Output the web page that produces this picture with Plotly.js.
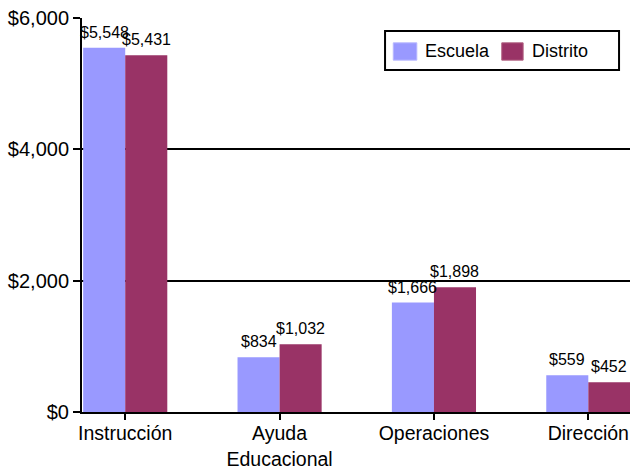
<!DOCTYPE html>
<html><head><meta charset="utf-8">
<script src="https://cdn.plot.ly/plotly-3.0.1.min.js"></script>
<style>html,body{margin:0;padding:0;background:#fff;}#chart{width:632px;height:470px;}</style>
</head><body><div id="chart"></div>
<script>
const categories = ["Instrucción", "Ayuda<br>Educacional", "Operaciones", "Dirección"];
const seriesNames = ["Escuela", "Distrito"];
const escuela = [5548, 834, 1666, 559];
const distrito = [5431, 1032, 1898, 452];
const colors = ["#9999FF", "#993366"];
const yTicks = [0, 2000, 4000, 6000];
const yTickText = ["$0", "$2,000", "$4,000", "$6,000"];

const fmt = v => "$" + v.toLocaleString("en-US");
const FONT = "Liberation Sans, Arial, sans-serif";

const traces = [escuela, distrito].map((vals, i) => ({
  type: "bar",
  name: seriesNames[i],
  x: categories,
  y: vals,
  marker: {color: colors[i], line: {width: 0}},
  showlegend: false,
  hoverinfo: "skip"
}));

const shapes = [
  {type: "rect", xref: "paper", yref: "paper", x0: 0.553, x1: 0.980, y0: 0.868, y1: 0.967,
   line: {color: "#000", width: 2}, fillcolor: "#fff", layer: "above"},
  {type: "rect", xref: "paper", yref: "paper", x0: 0.568, x1: 0.611, y0: 0.893, y1: 0.937,
   line: {color: "#b8b8ff", width: 1}, fillcolor: colors[0], layer: "above"},
  {type: "rect", xref: "paper", yref: "paper", x0: 0.766, x1: 0.805, y0: 0.893, y1: 0.937,
   line: {color: "#b06080", width: 1}, fillcolor: colors[1], layer: "above"}
];
const annotations = [
  {xref: "paper", yref: "paper", x: 0.622, y: 0.915, xanchor: "left", yanchor: "middle",
   text: seriesNames[0], showarrow: false, font: {family: FONT, size: 18, color: "#000"}},
  {xref: "paper", yref: "paper", x: 0.818, y: 0.915, xanchor: "left", yanchor: "middle",
   text: seriesNames[1], showarrow: false, font: {family: FONT, size: 18, color: "#000"}}
];
[escuela, distrito].forEach((vals, i) => {
  vals.forEach((v, j) => {
    annotations.push({
      xref: "x", yref: "y", x: categories[j], y: v,
      xshift: i === 0 ? -21 : 21, yshift: 5,
      xanchor: "center", yanchor: "bottom",
      text: fmt(v), showarrow: false,
      font: {family: FONT, size: 16, color: "#000"}
    });
  });
});

const layout = {
  width: 632, height: 470,
  margin: {l: 82, r: 2, t: 18, b: 58, pad: 0},
  paper_bgcolor: "#fff", plot_bgcolor: "#fff",
  font: {family: FONT, color: "#000"},
  barmode: "group",
  bargap: 0.455,
  bargroupgap: 0,
  showlegend: false,
  xaxis: {
    type: "category",
    range: [-0.28, 3.27],
    showline: true, linecolor: "#000", linewidth: 2,
    ticks: "outside", ticklen: 6, tickwidth: 2, tickcolor: "#000",
    ticklabelstandoff: -3,
    tickfont: {family: FONT, size: 19.5, color: "#000"},
    showgrid: false, zeroline: false, fixedrange: true
  },
  yaxis: {
    range: [0, 6000],
    tickvals: yTicks, ticktext: yTickText,
    showline: true, linecolor: "#000", linewidth: 2,
    ticks: "outside", ticklen: 7, tickwidth: 2, tickcolor: "#000",
    tickfont: {family: FONT, size: 20, color: "#000"},
    showgrid: true, gridcolor: "#000", gridwidth: 2,
    zeroline: false, fixedrange: true
  },
  shapes: shapes,
  annotations: annotations
};

Plotly.newPlot("chart", traces, layout, {staticPlot: true, displayModeBar: false});
</script></body></html>
